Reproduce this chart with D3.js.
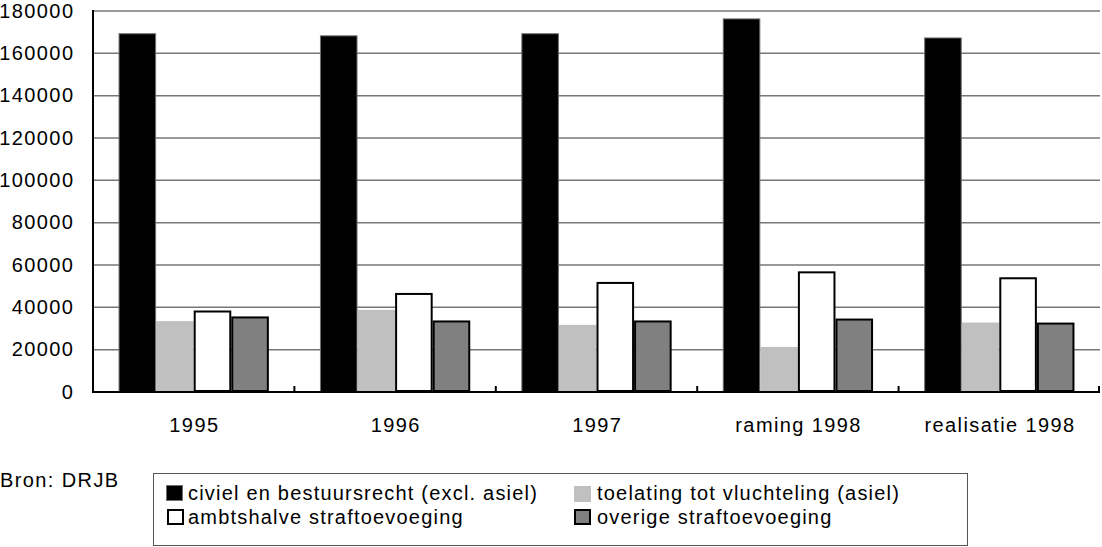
<!DOCTYPE html>
<html>
<head>
<meta charset="utf-8">
<script src="https://cdn.jsdelivr.net/npm/d3@7"></script>
<style>
  html, body { margin: 0; padding: 0; background: #fff; }
  svg { display: block; }
  text { font-family: "Liberation Sans", Arial, Helvetica, sans-serif; fill: #000; }
</style>
</head>
<body>
<svg id="chart" width="1102" height="547"></svg>
<script>
const categories = ["1995", "1996", "1997", "raming 1998", "realisatie 1998"];
const seriesNames = [
  "civiel en bestuursrecht (excl. asiel)",
  "toelating tot vluchteling (asiel)",
  "ambtshalve straftoevoeging",
  "overige straftoevoeging"
];
const civiel = [169500, 168500, 169500, 176500, 167500];
const asiel = [33500, 38800, 31700, 21300, 32800];
const ambtshalve = [38500, 46800, 52000, 57000, 54200];
const overige = [35700, 33800, 33800, 34700, 32800];
const yTicks = [0, 20000, 40000, 60000, 80000, 100000, 120000, 140000, 160000, 180000];
const sourceText = "Bron: DRJB";

const seriesValues = [civiel, asiel, ambtshalve, overige];
const fills = ["#000000", "#c0c0c0", "#ffffff", "#808080"];
const strokes = ["#707070", "none", "#000000", "#000000"];
const strokeW = [1, 0, 2, 2];
const LS = 1.4;

const svg = d3.select("#chart");
const mLeft = 93, mRight = 1100, mTop = 11, mBottom = 392;

const y = d3.scaleLinear().domain([0, 180000]).range([mBottom, mTop]);
const x0 = d3.scaleBand().domain(categories).range([mLeft, mRight]).padding(0);
const x1 = d3.scaleBand().domain(d3.range(seriesNames.length))
  .range([0, x0.bandwidth()]).paddingInner(0).paddingOuter(0.68);

// gridlines
svg.append("g").selectAll("line").data(yTicks.filter(d => d > 0)).join("line")
  .attr("x1", mLeft).attr("x2", mRight)
  .attr("y1", d => y(d)).attr("y2", d => y(d))
  .attr("stroke", "#777").attr("stroke-width", 1.5);

// y labels
svg.append("g").selectAll("text").data(yTicks).join("text")
  .attr("x", 73 + LS).attr("y", d => y(d)).attr("dy", "0.33em")
  .attr("text-anchor", "end").attr("font-size", 20)
  .attr("letter-spacing", LS)
  .text(d => d);

// bars
const groups = svg.append("g").selectAll("g").data(categories).join("g")
  .attr("transform", d => `translate(${x0(d)},0)`);
seriesValues.forEach((vals, si) => {
  groups.append("rect")
    .each(function(c, ci) {
      const v = vals[ci];
      const sw = strokeW[si];
      d3.select(this)
        .attr("x", x1(si) + sw / 2)
        .attr("y", y(v) + sw / 2)
        .attr("width", x1.bandwidth() - sw)
        .attr("height", y(0) - y(v) - sw)
        .attr("fill", fills[si])
        .attr("stroke", strokes[si])
        .attr("stroke-width", sw);
    });
});

// axes lines
svg.append("line").attr("x1", mLeft).attr("x2", mLeft).attr("y1", mTop - 1).attr("y2", mBottom + 1)
  .attr("stroke", "#000").attr("stroke-width", 2);
svg.append("line").attr("x1", mLeft).attr("x2", mRight).attr("y1", mBottom).attr("y2", mBottom)
  .attr("stroke", "#000").attr("stroke-width", 2);
// x ticks at category boundaries
const boundaries = categories.map(c => x0(c) + x0.bandwidth());
svg.append("g").selectAll("line").data(boundaries).join("line")
  .attr("x1", d => Math.min(d, mRight - 1)).attr("x2", d => Math.min(d, mRight - 1))
  .attr("y1", mBottom).attr("y2", mBottom - 6)
  .attr("stroke", "#000").attr("stroke-width", 2);

// x labels
svg.append("g").selectAll("text").data(categories).join("text")
  .attr("x", d => x0(d) + x0.bandwidth() / 2 + LS / 2).attr("y", 432)
  .attr("text-anchor", "middle").attr("font-size", 20)
  .attr("letter-spacing", LS)
  .text(d => d);

// source
svg.append("text").attr("x", 0).attr("y", 487).attr("font-size", 20)
  .attr("letter-spacing", 1.4).text(sourceText);

// legend
svg.append("rect").attr("x", 153.5).attr("y", 473.5).attr("width", 814).attr("height", 72)
  .attr("fill", "#fff").attr("stroke", "#555").attr("stroke-width", 1);
const legPos = [[166, 485, 188], [574, 486, 597], [167, 509, 188], [574, 509, 597]];
seriesNames.forEach((name, i) => {
  const [lx, ly, tx] = legPos[i];
  const sw = strokeW[i];
  svg.append("rect")
    .attr("x", lx + sw / 2).attr("y", ly + sw / 2)
    .attr("width", 17 - sw).attr("height", 16 - sw)
    .attr("fill", fills[i]).attr("stroke", strokes[i]).attr("stroke-width", sw);
  svg.append("text").attr("x", tx).attr("y", i < 2 ? 500 : 524)
    .attr("font-size", 20).attr("letter-spacing", 1.2).text(name);
});
</script>
</body>
</html>
